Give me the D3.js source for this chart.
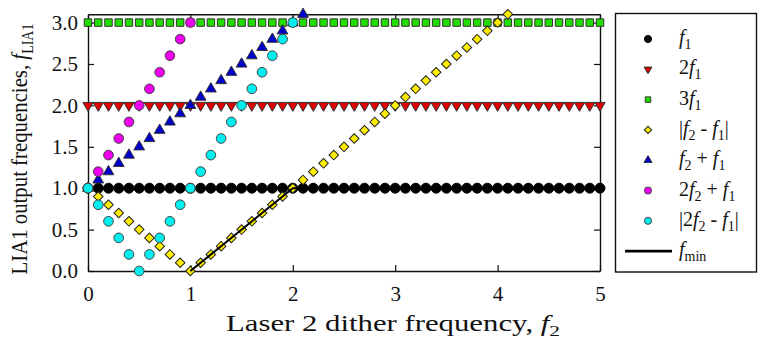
<!DOCTYPE html>
<html>
<head>
<meta charset="utf-8">
<script src="https://cdn.jsdelivr.net/npm/d3@7"></script>
<style>
  html, body { margin: 0; padding: 0; background: #fff; }
  svg { display: block; font-family: "Liberation Serif", "Times New Roman", serif; }
  svg text { font-family: "Liberation Serif", "Times New Roman", serif; }
</style>
</head>
<body>
<svg id="chart" width="761" height="345"></svg>
<script>
// Laser 2 dither frequency f2 (x) and the LIA1 output frequency of each mixing product
const f2 = [0.0, 0.1, 0.2, 0.3, 0.4, 0.5, 0.6, 0.7, 0.8, 0.9,
            1.0, 1.1, 1.2, 1.3, 1.4, 1.5, 1.6, 1.7, 1.8, 1.9,
            2.0, 2.1, 2.2, 2.3, 2.4, 2.5, 2.6, 2.7, 2.8, 2.9,
            3.0, 3.1, 3.2, 3.3, 3.4, 3.5, 3.6, 3.7, 3.8, 3.9,
            4.0, 4.1, 4.2, 4.3, 4.4, 4.5, 4.6, 4.7, 4.8, 4.9, 5.0];

const f1Vals = [1, 1, 1, 1, 1, 1, 1, 1, 1, 1, 1, 1, 1, 1, 1, 1, 1, 1, 1, 1, 1, 1, 1, 1, 1, 1,
                1, 1, 1, 1, 1, 1, 1, 1, 1, 1, 1, 1, 1, 1, 1, 1, 1, 1, 1, 1, 1, 1, 1, 1, 1];
const twoF1Vals = [2, 2, 2, 2, 2, 2, 2, 2, 2, 2, 2, 2, 2, 2, 2, 2, 2, 2, 2, 2, 2, 2, 2, 2, 2, 2,
                   2, 2, 2, 2, 2, 2, 2, 2, 2, 2, 2, 2, 2, 2, 2, 2, 2, 2, 2, 2, 2, 2, 2, 2, 2];
const threeF1Vals = [3, 3, 3, 3, 3, 3, 3, 3, 3, 3, 3, 3, 3, 3, 3, 3, 3, 3, 3, 3, 3, 3, 3, 3, 3, 3,
                     3, 3, 3, 3, 3, 3, 3, 3, 3, 3, 3, 3, 3, 3, 3, 3, 3, 3, 3, 3, 3, 3, 3, 3, 3];
// |f2 - f1|
const diffVals = [1.0, 0.9, 0.8, 0.7, 0.6, 0.5, 0.4, 0.3, 0.2, 0.1,
                  0.0, 0.1, 0.2, 0.3, 0.4, 0.5, 0.6, 0.7, 0.8, 0.9,
                  1.0, 1.1, 1.2, 1.3, 1.4, 1.5, 1.6, 1.7, 1.8, 1.9,
                  2.0, 2.1, 2.2, 2.3, 2.4, 2.5, 2.6, 2.7, 2.8, 2.9,
                  3.0, 3.1, null, null, null, null, null, null, null, null, null];
// f2 + f1
const sumVals = [1.0, 1.1, 1.2, 1.3, 1.4, 1.5, 1.6, 1.7, 1.8, 1.9,
                 2.0, 2.1, 2.2, 2.3, 2.4, 2.5, 2.6, 2.7, 2.8, 2.9,
                 3.0, 3.1, null, null, null, null, null, null, null, null,
                 null, null, null, null, null, null, null, null, null, null,
                 null, null, null, null, null, null, null, null, null, null, null];
// 2f2 + f1
const twoSumVals = [1.0, 1.2, 1.4, 1.6, 1.8, 2.0, 2.2, 2.4, 2.6, 2.8,
                    3.0, null, null, null, null, null, null, null, null, null,
                    null, null, null, null, null, null, null, null, null, null,
                    null, null, null, null, null, null, null, null, null, null,
                    null, null, null, null, null, null, null, null, null, null, null];
// |2f2 - f1|
const twoDiffVals = [1.0, 0.8, 0.6, 0.4, 0.2, 0.0, 0.2, 0.4, 0.6, 0.8,
                     1.0, 1.2, 1.4, 1.6, 1.8, 2.0, 2.2, 2.4, 2.6, 2.8,
                     3.0, null, null, null, null, null, null, null, null, null,
                     null, null, null, null, null, null, null, null, null, null,
                     null, null, null, null, null, null, null, null, null, null, null];
// lowest output frequency, f_min
const fminX = [1, 2, 5];
const fminY = [0, 1, 1];

const xTicks = [0, 1, 2, 3, 4, 5];
const yTicks = [0, 0.5, 1.0, 1.5, 2.0, 2.5, 3.0];

const svg = d3.select("#chart");
const serif = "'Liberation Serif', 'Times New Roman', serif";

const x = d3.scaleLinear().domain([0, 5]).range([88, 600]);
const y = d3.scaleLinear().domain([0, 3.1]).range([271, 14.3]);

const axisColor = "#111";
const fontSize = 21;

// plot frame: ticks point inward on all four sides
const gB = svg.append("g").attr("transform", `translate(0,${y(0)})`)
  .call(d3.axisBottom(x).tickValues(xTicks).tickSizeInner(-6).tickSizeOuter(0)
        .tickPadding(15).tickFormat(d3.format("d")));
const gT = svg.append("g").attr("transform", `translate(0,${y(3.1)})`)
  .call(d3.axisTop(x).tickValues(xTicks).tickSizeInner(-6).tickSizeOuter(0).tickFormat(""));
const gL = svg.append("g").attr("transform", `translate(${x(0)},0)`)
  .call(d3.axisLeft(y).tickValues(yTicks).tickSizeInner(-6).tickSizeOuter(0)
        .tickPadding(10).tickFormat(d3.format(".1f")));
const gR = svg.append("g").attr("transform", `translate(${x(5)},0)`)
  .call(d3.axisRight(y).tickValues(yTicks).tickSizeInner(-6).tickSizeOuter(0).tickFormat(""));

[gB, gT, gL, gR].forEach(g => {
  g.attr("font-family", serif);
  g.select(".domain").attr("stroke", axisColor).attr("stroke-width", 1.4);
  g.selectAll(".tick line").attr("stroke", axisColor).attr("stroke-width", 1.2);
  g.selectAll(".tick text").attr("fill", "#111").attr("font-size", fontSize);
});

// marker shapes
const shapes = {
  circle: d3.symbolCircle,
  triDown: d3.symbolTriangle,
  square: d3.symbolSquare,
  diamond: d3.symbolSquare,
  triUp: d3.symbolTriangle
};

const series = [
  { name: "f1", vals: f1Vals, fill: "#000000", shape: "circle", size: 78, stroke: "#000" },
  { name: "2f1", vals: twoF1Vals, fill: "#e00000", shape: "triDown", size: 46, stroke: "#333" },
  { name: "3f1", vals: threeF1Vals, fill: "#22dd00", shape: "square", size: 56, stroke: "#333" },
  { name: "|f2-f1|", vals: diffVals, fill: "#ffee00", shape: "diamond", size: 46, stroke: "#222" },
  { name: "f2+f1", vals: sumVals, fill: "#0000cc", shape: "triUp", size: 50, stroke: "#333" },
  { name: "2f2+f1", vals: twoSumVals, fill: "#ee00ee", shape: "circle", size: 74, stroke: "#444" },
  { name: "|2f2-f1|", vals: twoDiffVals, fill: "#00eeee", shape: "circle", size: 74, stroke: "#444" }
];

function transformFor(shape, px, py) {
  if (shape === "triDown") return `translate(${px},${py}) rotate(180)`;
  if (shape === "diamond") return `translate(${px},${py}) rotate(45)`;
  return `translate(${px},${py})`;
}

const marks = svg.append("g");
series.forEach(s => {
  const pts = f2.map((xv, i) => ({ x: xv, y: s.vals[i] })).filter(d => d.y !== null);
  marks.append("g").selectAll("path").data(pts).join("path")
    .attr("d", d3.symbol().type(shapes[s.shape]).size(s.size))
    .attr("transform", d => transformFor(s.shape, x(d.x), y(d.y)))
    .attr("fill", s.fill)
    .attr("stroke", s.stroke)
    .attr("stroke-width", 1);
});

// f_min line over the markers
const line = d3.line().x(d => x(d[0])).y(d => y(d[1]));
svg.append("path")
  .datum(fminX.map((v, i) => [v, fminY[i]]))
  .attr("d", line)
  .attr("fill", "none")
  .attr("stroke", "#000")
  .attr("stroke-width", 2);

// axis titles
const yTitle = svg.append("text")
  .attr("transform", `translate(27,149) rotate(-90) scale(1,1.12)`)
  .attr("text-anchor", "middle")
  .attr("font-family", serif)
  .attr("font-size", 20.8)
  .attr("fill", "#111");
yTitle.append("tspan").text("LIA1 output frequencies, ");
yTitle.append("tspan").attr("font-style", "italic").text("f");
yTitle.append("tspan").attr("font-size", 14).attr("dy", 5).text("LIA1");

const xTitle = svg.append("text")
  .attr("transform", "translate(393,331) scale(1.38,1)")
  .attr("text-anchor", "middle")
  .attr("font-family", serif)
  .attr("font-size", 22.3)
  .attr("fill", "#111");
xTitle.append("tspan").text("Laser 2 dither frequency, ");
xTitle.append("tspan").attr("font-style", "italic").text("f");
xTitle.append("tspan").attr("font-size", 15.5).attr("dy", 5).text("2");

// legend
const lg = svg.append("g");
lg.append("rect").attr("x", 615.5).attr("y", 13.5).attr("width", 141).attr("height", 258.5)
  .attr("fill", "#fff").attr("stroke", axisColor).attr("stroke-width", 1.4);

// legend labels: [plain, italic, subscript] pieces
const legendLabels = [
  [["i", "f"], ["s", "1"]],
  [["n", "2"], ["i", "f"], ["s", "1"]],
  [["n", "3"], ["i", "f"], ["s", "1"]],
  [["n", "|"], ["i", "f"], ["s", "2"], ["n", " - "], ["i", "f"], ["s", "1"], ["n", "|"]],
  [["i", "f"], ["s", "2"], ["n", " + "], ["i", "f"], ["s", "1"]],
  [["n", "2"], ["i", "f"], ["s", "2"], ["n", " + "], ["i", "f"], ["s", "1"]],
  [["n", "|2"], ["i", "f"], ["s", "2"], ["n", " - "], ["i", "f"], ["s", "1"], ["n", "|"]],
  [["i", "f"], ["s", "min"]]
];
const legendSizes = [40, 26, 30, 26, 28, 40, 40];
const rowY = i => 39 + i * 30.3;

series.forEach((s, i) => {
  lg.append("path")
    .attr("d", d3.symbol().type(shapes[s.shape]).size(legendSizes[i]))
    .attr("transform", transformFor(s.shape, 648, rowY(i)))
    .attr("fill", s.fill).attr("stroke", s.stroke).attr("stroke-width", 1);
});
lg.append("line").attr("x1", 625).attr("x2", 672).attr("y1", rowY(7)).attr("y2", rowY(7))
  .attr("stroke", "#000").attr("stroke-width", 2.6);

legendLabels.forEach((parts, i) => {
  const t = lg.append("text").attr("x", 679).attr("y", rowY(i) + 5)
    .attr("font-family", serif)
    .attr("font-size", 20).attr("fill", "#111").attr("xml:space", "preserve");
  let shifted = false;
  parts.forEach(([kind, str]) => {
    const sp = t.append("tspan").text(str);
    if (kind === "i") sp.attr("font-style", "italic");
    if (kind === "s") {
      sp.attr("font-size", 14).attr("dy", 5);
      shifted = true;
    } else if (shifted) {
      sp.attr("dy", -5);
      shifted = false;
    }
  });
});
</script>
</body>
</html>
